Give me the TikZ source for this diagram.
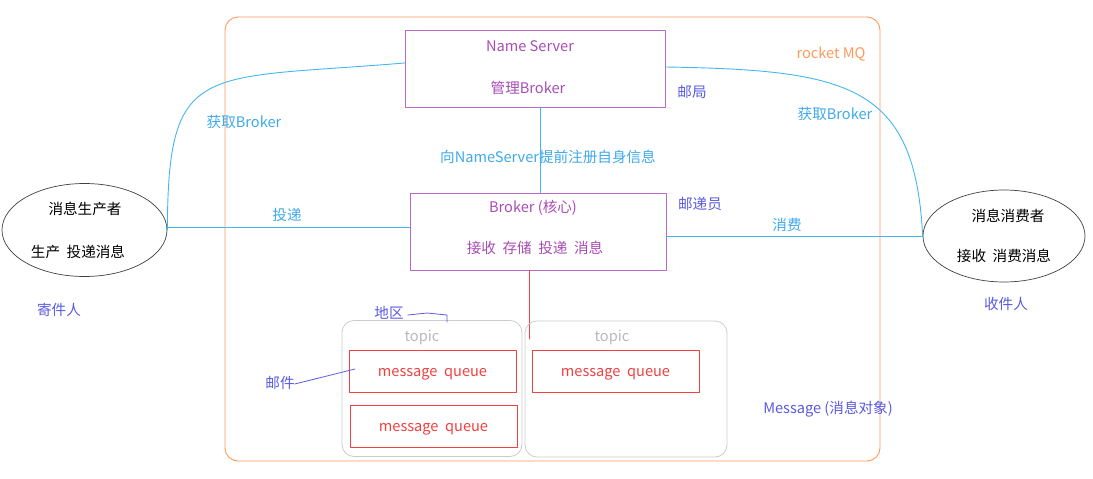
\documentclass[tikz,border=0pt]{standalone}
\usepackage{fontspec}
\setmainfont{Noto Sans CJK SC}
\usetikzlibrary{shapes.geometric}
\definecolor{mqorange}{HTML}{FF9A5A}
\definecolor{lineblue}{HTML}{45B5F0}
\definecolor{labelblue}{HTML}{3FA9EA}
\definecolor{boxpurple}{HTML}{B868C8}
\definecolor{textpurple}{HTML}{A84CB4}
\definecolor{notepurple}{HTML}{5A5AE0}
\definecolor{queuered}{HTML}{F04040}
\definecolor{topicgray}{HTML}{CCCCCC}
\begin{document}
\begin{tikzpicture}[x=1pt, y=-1pt, font=\fontsize{14.6}{17}\selectfont, line join=round, line cap=round,
	txt/.style={inner sep=0pt, text height=0.9em, text depth=0.1em, yshift=-2pt},
	box/.style={draw=boxpurple, line width=0.9pt, minimum width=#1, minimum height=77pt, inner sep=0pt},
	boxtext/.style={txt, text=textpurple},
	party/.style={draw=black!75, ellipse, line width=0.7pt, inner sep=0pt},
	topicbox/.style={draw=topicgray, rounded corners=12pt, line width=0.8pt, minimum height=136pt, inner sep=0pt},
	queue/.style={draw=queuered, line width=0.9pt, text=queuered, minimum width=167pt, minimum height=42pt, inner sep=0pt, text height=1.15em, text depth=0.1em},
	link/.style={draw=lineblue, line width=0.9pt},
	linklabel/.style={txt, text=labelblue},
	note/.style={txt, text=notepurple},
	noteline/.style={draw=notepurple, line width=0.8pt}]
	\useasboundingbox (0,0) rectangle (1093,479);
	\node[draw=mqorange, rounded corners=13pt, line width=0.9pt, minimum width=655pt, minimum height=444pt] (mq) at (552.5,239) {};
	\node[txt, text=mqorange] (mqlabel) at (831,52) {rocket MQ};
	% name server and broker
	\node[box=260pt] (ns) at (535,68.5) {};
	\node[boxtext] (nstitle) at (530,45) {Name Server};
	\node[boxtext] (nsduty) at (528,87) {管理Broker};
	\node[box=256pt] (broker) at (538,231.5) {};
	\node[boxtext] (brokertitle) at (533,206) {Broker (核心)};
	\node[boxtext] (brokerduty) at (535,247) {接收\ \ 存储\ \ 投递\ \ 消息};
	% producer and consumer
	\node[party, minimum width=165pt, minimum height=93pt] (prod) at (84.5,230) {};
	\node[txt] (prodtitle) at (85,208) {消息生产者};
	\node[txt] (prodduty) at (78,251) {生产\ \ 投递消息};
	\node[party, minimum width=162pt, minimum height=92pt] (cons) at (1004,236) {};
	\node[txt] (constitle) at (1008,215) {消息消费者};
	\node[txt] (consduty) at (1004,255) {接收\ \ 消费消息};
	% links
	\draw[link] (prod.east) .. controls (168,60) and (200,80) .. ([yshift=5.5pt]ns.west);
	\draw[link] ([yshift=1.5pt]ns.east) .. controls (850,70) and (915,85) .. (cons.west);
	\draw[link] ([xshift=5pt]ns.south) -- ([xshift=5pt]ns.south |- broker.north);
	\draw[link] ([yshift=3pt]prod.east) -- ([yshift=3pt]prod.east -| broker.west);
	\draw[link] (broker.east |- cons.west) -- (cons.west);
	\node[linklabel] (getleft) at (244,121) {获取Broker};
	\node[linklabel] (getright) at (835,113) {获取Broker};
	\node[linklabel] (register) at (548,156) {向NameServer提前注册自身信息};
	\node[linklabel] (deliver) at (287,214) {投递};
	\node[linklabel] (consume) at (787,224) {消费};
	% topics and queues
	\coordinate (redend) at (529,339);
	\draw[queuered, line width=0.9pt] (broker.south -| redend) -- (redend);
	\node[topicbox, minimum width=180pt] (topicA) at (432,388.5) {};
	\node[topicbox, minimum width=202pt] (topicB) at (626,389) {};
	\node[txt, text=topicgray!90!black] (topicAlabel) at (422,335) {topic};
	\node[txt, text=topicgray!90!black] (topicBlabel) at (612,335) {topic};
	\node[queue] (qA) at (432.5,371) {message\ \ queue};
	\node[queue] (qB) at (433.5,426) {message\ \ queue};
	\node[queue] (qC) at (615.5,371) {message\ \ queue};
	% notes
	\node[note] (sender) at (59,309) {寄件人};
	\node[note] (receiver) at (1006,303) {收件人};
	\node[note] (postoffice) at (692,91) {邮局};
	\node[note] (postman) at (700,203) {邮递员};
	\node[note] (region) at (389,312) {地区};
	\node[note] (mail) at (280,382) {邮件};
	\node[note] (msgobj) at (828,407) {Message (消息对象)};
	\coordinate (regionend) at (447,322);
	\coordinate (mailend) at (355,369);
	\draw[noteline] (region.east) ++(4,1) -- (427,313) -- (447,315) -- (regionend);
	\draw[noteline] (mail.east) -- (mailend);
\end{tikzpicture}
\end{document}
